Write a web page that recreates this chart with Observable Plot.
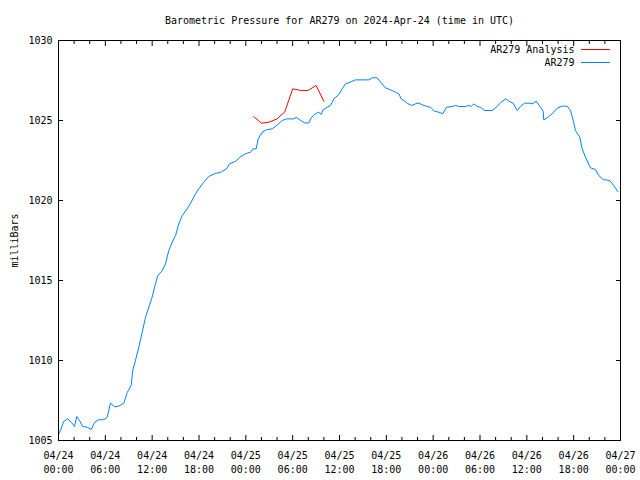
<!DOCTYPE html>
<html><head><meta charset="utf-8">
<script src="https://cdn.jsdelivr.net/npm/d3@7"></script>
<script src="https://cdn.jsdelivr.net/npm/@observablehq/plot@0.6"></script>
<style>body{margin:0;background:#fff}</style>
</head><body><div id="chart"></div>
<script>
const titleText = "Barometric Pressure for AR279 on 2024-Apr-24 (time in UTC)";
const yLabel = "milliBars";
const startUTC = Date.UTC(2024, 3, 24);
const seriesNames = ["AR279 Analysis", "AR279"];

// AR279 observations: hours since 2024-04-24 00:00 UTC, pressure (mb)
const blueHours = [0.1,0.68,1.19,1.63,2.05,2.34,2.69,3.11,3.68,4.19,4.65,5.16,5.8,6.24,6.66,7.17,7.72,8.37,8.8,9.31,9.52,9.86,10.29,10.72,11.15,11.57,12.0,12.43,12.72,13.28,13.71,14.13,14.57,14.99,15.41,15.85,16.49,17.0,17.55,17.97,18.61,19.25,20.11,20.75,21.52,21.94,22.67,23.23,23.96,24.6,24.94,25.33,25.58,26.1,26.65,27.38,28.09,28.66,29.21,30.14,30.45,30.91,31.51,32.07,32.37,32.92,33.35,33.65,33.91,34.42,34.85,35.27,35.91,36.34,36.77,37.41,38.05,39.75,40.19,40.83,41.25,41.89,42.53,43.17,43.6,43.9,44.24,44.67,45.22,45.73,46.16,46.59,47.23,47.66,48.17,48.72,49.23,49.71,50.44,50.86,51.28,52.14,52.56,52.87,53.2,53.64,54.06,54.57,55.56,56.2,56.71,57.26,57.69,58.25,58.76,59.18,59.7,60.38,60.68,61.2,61.75,62.09,62.17,62.68,63.25,63.89,64.53,65.17,65.59,65.94,66.23,66.78,67.09,67.51,68.15,68.79,69.22,69.78,70.62,71.13,71.65];
const blueValues = [1005.45,1006.2,1006.35,1006.15,1005.875,1006.5,1006.25,1005.875,1005.83,1005.69,1006.15,1006.3,1006.3,1006.45,1007.35,1007.1,1007.15,1007.33,1008.0,1008.44,1009.4,1010.0,1010.83,1011.77,1012.7,1013.33,1013.96,1014.8,1015.3,1015.6,1016.04,1016.875,1017.4,1017.8,1018.54,1019.06,1019.48,1019.9,1020.42,1020.73,1021.14,1021.5,1021.7,1021.75,1021.98,1022.3,1022.44,1022.7,1022.92,1023.02,1023.23,1023.23,1023.85,1024.27,1024.42,1024.48,1024.75,1025.0,1025.1,1025.1,1025.2,1025.04,1024.85,1024.85,1025.17,1025.42,1025.52,1025.375,1025.67,1025.83,1025.94,1026.35,1026.62,1026.98,1027.29,1027.4,1027.54,1027.54,1027.67,1027.67,1027.4,1027.04,1026.92,1026.77,1026.67,1026.35,1026.25,1026.08,1025.94,1026.04,1026.1,1025.98,1025.875,1025.83,1025.58,1025.52,1025.42,1025.83,1025.875,1025.94,1025.875,1025.875,1025.94,1025.875,1026.04,1025.875,1025.83,1025.625,1025.625,1025.875,1026.15,1026.35,1026.21,1026.08,1025.625,1025.875,1026.08,1026.08,1026.04,1026.21,1025.83,1025.58,1025.04,1025.2,1025.42,1025.77,1025.9,1025.9,1025.625,1025.0,1024.375,1023.96,1023.23,1022.71,1022.04,1021.94,1021.56,1021.31,1021.25,1020.94,1020.56];

// AR279 Analysis
const redHours = [25,26,27,28,29,30,31,32,33,34];
const redValues = [1025.25,1024.83,1024.9,1025.1,1025.55,1026.98,1026.88,1026.88,1027.19,1026.2];

const xTickHours = [0,6,12,18,24,30,36,42,48,54,60,66,72];
const xMinorTickHours = [2,4,8,10,14,16,20,22,26,28,32,34,38,40,44,46,50,52,56,58,62,64,68,70];
const xTickLabels = ["04/24\n00:00","04/24\n06:00","04/24\n12:00","04/24\n18:00","04/25\n00:00","04/25\n06:00","04/25\n12:00","04/25\n18:00","04/26\n00:00","04/26\n06:00","04/26\n12:00","04/26\n18:00","04/27\n00:00"];
const yTicks = [1005,1010,1015,1020,1025,1030];

const RED = "#ff0000", BLUE = "#0080ff";
const FONT = "'DejaVu Sans Mono', monospace";

const toDate = h => new Date(startUTC + h * 3600e3);
const blue = blueHours.map((h, i) => ({t: toDate(h), v: blueValues[i]}));
const red = redHours.map((h, i) => ({t: toDate(h), v: redValues[i]}));
const xTicks = xTickHours.map(toDate);
const xMinor = xMinorTickHours.map(toDate);
const fmt = new Map(xTicks.map((d, i) => [+d, xTickLabels[i]]));

const chart = Plot.plot({
  width: 640, height: 480,
  marginLeft: 58, marginRight: 20, marginTop: 40, marginBottom: 40,
  style: {fontFamily: FONT, fontSize: "10px", color: "#000", background: "#fff"},
  x: {type: "utc", domain: [xTicks[0], xTicks[xTicks.length - 1]]},
  y: {domain: [yTicks[0], yTicks[yTicks.length - 1]]},
  marks: [
    Plot.line(red, {x: "t", y: "v", stroke: RED, strokeWidth: 1}),
    Plot.line(blue, {x: "t", y: "v", stroke: BLUE, strokeWidth: 1}),
    Plot.frame({stroke: "#000"}),
    Plot.axisX({anchor: "bottom", ticks: xTicks, tickSize: 0, tickPadding: 9, tickFormat: d => fmt.get(+d), lineHeight: 1.4, label: null}),
    Plot.axisX({anchor: "bottom", ticks: xTicks, tickSize: 5, dy: -5, fill: "none", label: null}),
    Plot.axisX({anchor: "top", ticks: xTicks, tickSize: 5, dy: 5, fill: "none", label: null}),
    Plot.axisX({anchor: "bottom", ticks: xMinor, tickSize: 3, dy: -3, fill: "none", label: null}),
    Plot.axisX({anchor: "top", ticks: xMinor, tickSize: 3, dy: 3, fill: "none", label: null}),
    Plot.axisY({anchor: "left", ticks: yTicks, tickSize: 0, tickPadding: 6, tickFormat: d => String(d), label: yLabel, labelAnchor: "center", labelArrow: "none", labelOffset: 48}),
    Plot.axisY({anchor: "left", ticks: yTicks, tickSize: 5, dx: 5, fill: "none", label: null}),
    Plot.axisY({anchor: "right", ticks: yTicks, tickSize: 5, dx: -5, fill: "none", label: null}),
    Plot.text([titleText], {frameAnchor: "top", dy: -20, lineAnchor: "middle", fontSize: 10}),
    Plot.text([seriesNames[0]], {frameAnchor: "top-right", dx: -46, dy: 9.5, lineAnchor: "middle", textAnchor: "end", fontSize: 10}),
    Plot.text([seriesNames[1]], {frameAnchor: "top-right", dx: -46, dy: 22.5, lineAnchor: "middle", textAnchor: "end", fontSize: 10})
  ]
});
document.getElementById("chart").appendChild(chart);

// legend sample lines
const svg = d3.select(chart.tagName === "svg" ? chart : chart.querySelector("svg"));
[[RED, 49.5], [BLUE, 62.5]].forEach(([c, y]) => {
  svg.append("line").attr("x1", 581).attr("x2", 610).attr("y1", y).attr("y2", y)
    .attr("stroke", c).attr("stroke-width", 1);
});
</script>
</body></html>
